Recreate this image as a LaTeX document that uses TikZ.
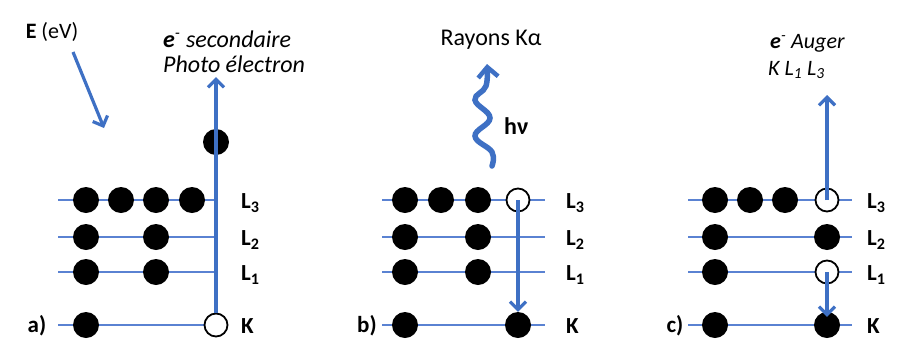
\documentclass[tikz,border=0pt]{standalone}
\usepackage{fontspec}
\setmainfont{Carlito}
\usetikzlibrary{arrows.meta}
\definecolor{oblue}{RGB}{62,112,196}
\definecolor{lblue}{RGB}{90,130,210}
\begin{document}
\begin{tikzpicture}[x=1pt,y=-1pt,
  level/.style={draw=lblue, line width=1.4pt},
  dotf/.style={circle, fill=black, minimum size=26pt, inner sep=0pt},
  doto/.style={circle, draw=black, fill=white, line width=1.8pt, minimum size=23pt, inner sep=0pt},
  trans/.style={draw=oblue, line width=3.2pt, -{Straight Barb[length=8pt,width=16pt]}},
  lbl/.style={anchor=west, font=\fontsize{23}{26}\selectfont\bfseries, inner sep=0pt},
  tag/.style={font=\fontsize{23}{26}\selectfont\bfseries, inner sep=0pt},
  toptxt/.style={font=\fontsize{24}{28}\selectfont, inner sep=0pt},
  augtxt/.style={font=\fontsize{22}{26}\selectfont, inner sep=0pt, anchor=west},
]
\useasboundingbox (0,0) rectangle (898,349);

% ---------------- panel a ----------------
\foreach \y in {200,237,272,325} \draw[level] (58,\y) -- (216,\y);
\node[dotf] (a31) at (86,200) {};
\node[dotf] (a32) at (121,200) {};
\node[dotf] (a33) at (156,200) {};
\node[dotf] (a34) at (192,200) {};
\node[dotf] (a21) at (86,237) {};
\node[dotf] (a22) at (156,237) {};
\node[dotf] (a11) at (86,272) {};
\node[dotf] (a12) at (156,272) {};
\node[dotf] (aK1) at (86,325) {};
\node[doto] (aK2) at (216,325) {};
\node[dotf] (aout) at (216,142) {};
\coordinate (atip) at (216,77);
\draw[trans] (aK2.north) -- (atip);
\node[lbl] (aL3) at (241,203) {L\textsubscript{3}};
\node[lbl] (aL2) at (241,240) {L\textsubscript{2}};
\node[lbl] (aL1) at (241,275) {L\textsubscript{1}};
\node[lbl] (aK)  at (241,326) {K};
\node[tag] (atag) at (37,326) {a)};
\node[toptxt, font=\fontsize{22}{26}\selectfont] (E) at (52,32) {\textbf{E} (eV)};
\coordinate (Etip) at (104,128);
\draw[trans] (73,52) -- (Etip);
\node[toptxt, anchor=west] (sec) at (163,39) {\textit{\textbf{e}\textsuperscript{-} secondaire}};
\node[toptxt, anchor=west] (pho) at (163,64) {\textit{Photo électron}};

% ---------------- panel b ----------------
\foreach \y in {200,237,272,325} \draw[level] (382,\y) -- (545,\y);
\node[dotf] (b31) at (405,200) {};
\node[dotf] (b32) at (441,200) {};
\node[dotf] (b33) at (478,200) {};
\node[doto] (b34) at (518,200) {};
\node[dotf] (b21) at (405,237) {};
\node[dotf] (b22) at (478,237) {};
\node[dotf] (b11) at (405,272) {};
\node[dotf] (b12) at (478,272) {};
\node[dotf] (bK1) at (405,325) {};
\node[dotf] (bK2) at (518,325) {};
\draw[trans] (b34.center) -- (bK2.north);
\node[lbl] (bL3) at (566,203) {L\textsubscript{3}};
\node[lbl] (bL2) at (566,240) {L\textsubscript{2}};
\node[lbl] (bL1) at (566,275) {L\textsubscript{1}};
\node[lbl] (bK)  at (566,326) {K};
\node[tag] (btag) at (367,326) {b)};
\node[toptxt] (ray) at (491,40) {Rayons Kα};
\draw[draw=oblue, line width=5.5pt, line cap=round, -{Straight Barb[length=10pt,width=20pt,line width=4.5pt]}]
  plot[smooth, tension=0.7] coordinates {(492,166) (492,152) (475,136) (490,118) (475,100) (486,86) (487,64)};
\node[toptxt, anchor=west] (hv) at (504,126) {\textbf{hν}};

% ---------------- panel c ----------------
\foreach \y in {200,237,272,325} \draw[level] (688,\y) -- (852,\y);
\node[dotf] (c31) at (715,200) {};
\node[dotf] (c32) at (750,200) {};
\node[dotf] (c33) at (785,200) {};
\node[doto] (c34) at (827,200) {};
\node[dotf] (c21) at (715,237) {};
\node[dotf] (c22) at (827,237) {};
\node[dotf] (c11) at (715,272) {};
\node[doto] (c12) at (827,272) {};
\node[dotf] (cK1) at (715,325) {};
\node[dotf] (cK2) at (827,325) {};
\coordinate (ctip) at (827,95);
\draw[trans] (c34.center) -- (ctip);
\draw[trans] (c12.center) -- ([yshift=-5pt]cK2.north);
\node[lbl] (cL3) at (867,203) {L\textsubscript{3}};
\node[lbl] (cL2) at (867,240) {L\textsubscript{2}};
\node[lbl] (cL1) at (867,275) {L\textsubscript{1}};
\node[lbl] (cK)  at (867,326) {K};
\node[tag] (ctag) at (675,326) {c)};
\node[augtxt] (aug) at (770,43) {\textit{\textbf{e}\textsuperscript{-} Auger}};
\node[augtxt] (kll) at (768,70) {\textit{K L\textsubscript{1} L\textsubscript{3}}};
\end{tikzpicture}
\end{document}
